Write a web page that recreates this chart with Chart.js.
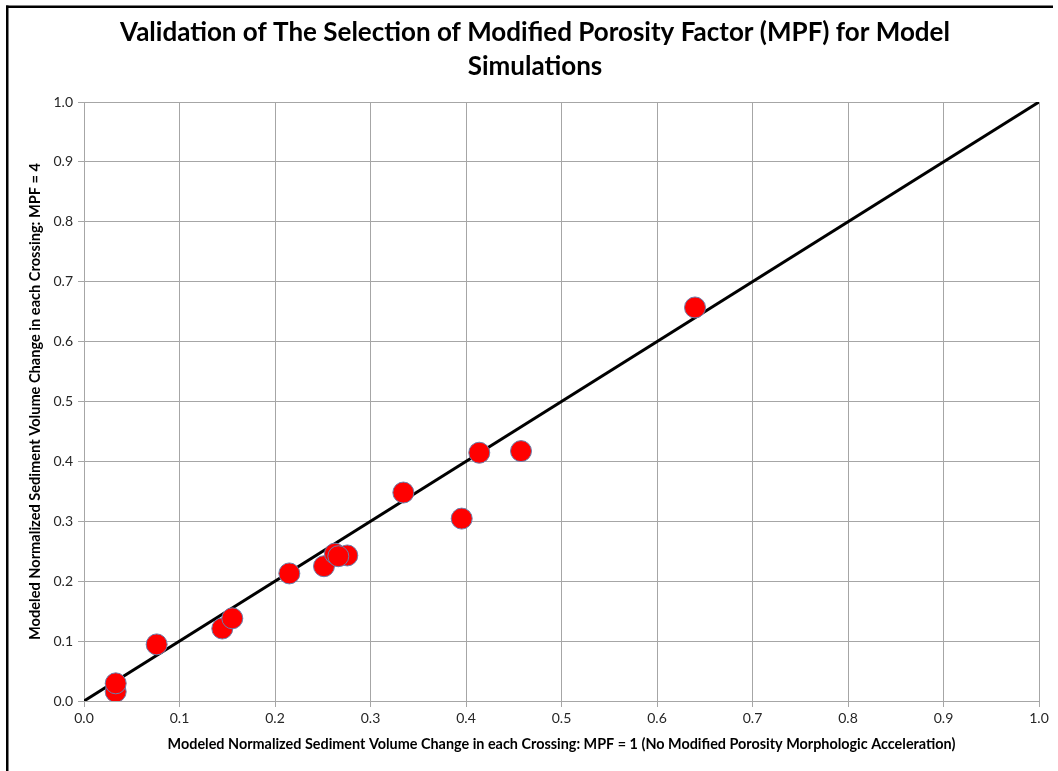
<!DOCTYPE html>
<html>
<head>
<meta charset="utf-8">
<title>MPF validation</title>
<script src="https://cdn.jsdelivr.net/npm/chart.js@4.4.1/dist/chart.umd.min.js"></script>
<style>
  html, body { margin: 0; padding: 0; background: #ffffff; overflow: hidden; }
  #chart { display: block; }
</style>
</head>
<body>
<canvas id="chart" width="1058" height="771"></canvas>
<script>
// Normalized sediment volume change per crossing
const mpf1Values = [0.0332, 0.0332, 0.0761, 0.1448, 0.1553, 0.2150, 0.2513, 0.2757, 0.2628, 0.2663, 0.3344, 0.3955, 0.4139, 0.4576, 0.6398];
const mpf4Values = [0.0155, 0.0295, 0.0945, 0.1210, 0.1380, 0.2130, 0.2250, 0.2430, 0.2460, 0.2417, 0.3480, 0.3045, 0.4145, 0.4172, 0.6570];

// 1:1 reference line
const lineX = [0, 1];
const lineY = [0, 1];

const tickLabels = ['0.0', '0.1', '0.2', '0.3', '0.4', '0.5', '0.6', '0.7', '0.8', '0.9', '1.0'];

const titleLines = ['Validation of The Selection of Modified Porosity Factor (MPF) for Model', 'Simulations'];
const xTitle = 'Modeled Normalized Sediment Volume Change in each Crossing: MPF = 1 (No Modified Porosity Morphologic Acceleration)';
const yTitle = 'Modeled Normalized Sediment Volume Change in each Crossing: MPF = 4';

const FONT = 'Lato, "Open Sans", "Liberation Sans", sans-serif';
const GRID = '#a6a6a6';
const TICK_COLOR = '#262626';

const scatterPoints = mpf1Values.map((x, i) => ({ x: x, y: mpf4Values[i] }));
const linePoints = lineX.map((x, i) => ({ x: x, y: lineY[i] }));

// White background, two-line heading and the frame around the figure
const framePlugin = {
  id: 'frame',
  beforeDraw(chart) {
    const c = chart.ctx;
    c.save();
    c.fillStyle = '#ffffff';
    c.fillRect(0, 0, chart.width, chart.height);
    c.restore();
  },
  afterDraw(chart) {
    const c = chart.ctx;
    c.save();
    c.fillStyle = '#000000';
    c.font = 'bold 26px ' + FONT;
    c.textAlign = 'center';
    c.textBaseline = 'middle';
    c.fillText(titleLines[0], 535, 33);
    c.fillText(titleLines[1], 535, 67);
    c.fillRect(6, 5.5, 1047, 2.5);
    c.fillRect(6, 5.5, 2.5, chart.height);
    c.restore();
  }
};

const tickFmt = (v) => {
  const i = Math.round(v * 10);
  return tickLabels[i] !== undefined ? tickLabels[i] : '';
};

new Chart(document.getElementById('chart'), {
  type: 'scatter',
  data: {
    datasets: [
      {
        type: 'line',
        data: linePoints,
        borderColor: '#000000',
        borderWidth: 3,
        pointRadius: 0,
        fill: false,
        order: 2
      },
      {
        type: 'scatter',
        data: scatterPoints,
        backgroundColor: '#ff0000',
        borderColor: '#6b7fab',
        borderWidth: 1,
        pointRadius: 10.5,
        order: 1
      }
    ]
  },
  plugins: [framePlugin],
  options: {
    responsive: false,
    maintainAspectRatio: false,
    animation: false,
    devicePixelRatio: 1,
    layout: { padding: { left: 10, right: 19, top: 102, bottom: 10 } },
    plugins: {
      legend: { display: false },
      tooltip: { enabled: false },
      title: { display: false }
    },
    scales: {
      x: {
        type: 'linear',
        min: 0, max: 1,
        ticks: { stepSize: 0.1, color: TICK_COLOR, font: { family: FONT, size: 14 }, padding: 3, callback: tickFmt, maxRotation: 0 },
        grid: { color: GRID, lineWidth: 1, tickLength: 6, tickColor: GRID },
        border: { color: GRID, width: 1 },
        title: { display: true, text: xTitle, color: '#000000', font: { family: FONT, size: 14.4, weight: 'bold' }, padding: { top: 0, bottom: 8 } },
        afterFit(scale) { scale.height = 60; }
      },
      y: {
        type: 'linear',
        min: 0, max: 1,
        ticks: { stepSize: 0.1, color: TICK_COLOR, font: { family: FONT, size: 14 }, padding: 5, callback: tickFmt },
        grid: { color: GRID, lineWidth: 1, tickLength: 6, tickColor: GRID },
        border: { color: GRID, width: 1 },
        title: { display: true, text: yTitle, color: '#000000', font: { family: FONT, size: 14.6, weight: 'bold' }, padding: { top: 17, bottom: 0 } },
        afterFit(scale) { scale.width = 74; }
      }
    }
  }
});
</script>
</body>
</html>
